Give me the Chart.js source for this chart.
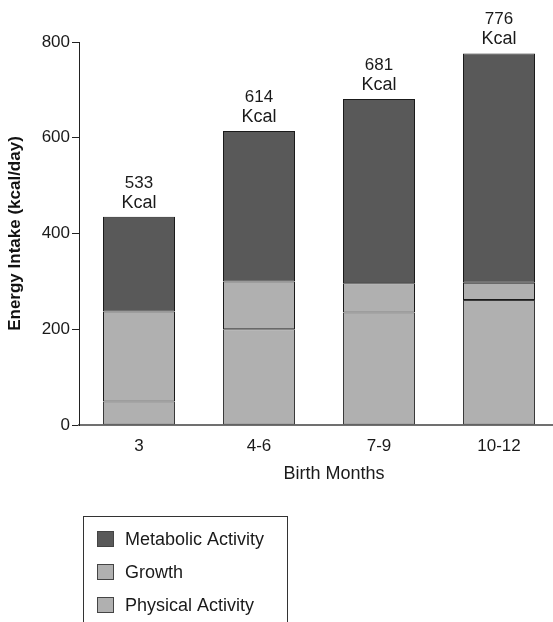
<!DOCTYPE html>
<html>
<head>
<meta charset="utf-8">
<script src="https://cdn.jsdelivr.net/npm/chart.js@4/dist/chart.umd.min.js"></script>
<style>
  html, body { margin: 0; padding: 0; background: #fff; }
  #wrap { width: 553px; height: 622px; overflow: hidden; position: relative; }
  canvas { display: block; }
</style>
</head>
<body>
<div id="wrap"><canvas id="grafico" width="560" height="622"></canvas></div>
<script>
/* DADOS */

const meses = ["3", "4-6", "7-9", "10-12"]

const atividadeFisica = [49, 200, 235, 261]
const crescimento = [188, 100, 61, 36]
const metabolismo = [198, 314, 385, 479]

const totais = [533, 614, 681, 776]

const yTicks = [0, 200, 400, 600, 800]

const fonte = "'Liberation Sans', Arial, sans-serif"
const escuro = "#595959"
const claro = "#b0b0b0"


/* ROTULOS EM CIMA DAS BARRAS */

const rotulosTotais = {
    id: "rotulosTotais",
    afterDatasetsDraw(chart) {
        const ctx = chart.ctx
        const meta = chart.getDatasetMeta(chart.data.datasets.length - 1)
        ctx.save()
        ctx.fillStyle = "#1a1a1a"
        ctx.textAlign = "center"
        ctx.textBaseline = "alphabetic"
        meta.data.forEach((bar, i) => {
            ctx.font = "17px " + fonte
            ctx.fillText(String(totais[i]), bar.x, bar.y - 29)
            ctx.font = "18px " + fonte
            ctx.fillText("Kcal", bar.x, bar.y - 9)
        })
        ctx.restore()
    }
}


/* TITULO DO EIXO X E LEGENDA EM CAIXA */

const legendaCaixa = {
    id: "legendaCaixa",
    afterDraw(chart) {
        const ctx = chart.ctx
        ctx.save()

        ctx.fillStyle = "#1a1a1a"
        ctx.font = "18px " + fonte
        ctx.textAlign = "center"
        ctx.textBaseline = "middle"
        ctx.fillText("Birth Months", 334, 474)

        const itens = chart.data.datasets.slice().reverse()
        ctx.textAlign = "left"
        ctx.strokeStyle = "#333"
        ctx.lineWidth = 1
        ctx.strokeRect(83.5, 516.5, 204, 120)
        itens.forEach((ds, i) => {
            const y = 539 + i * 33
            ctx.fillStyle = ds.backgroundColor
            ctx.fillRect(97, y - 8, 17, 16)
            ctx.strokeStyle = "#444"
            ctx.strokeRect(97.5, y - 7.5, 16, 15)
            ctx.fillStyle = "#1a1a1a"
            ctx.fillText(ds.label, 125, y + 1)
        })
        ctx.restore()
    }
}


/* GRAFICO */

new Chart(document.getElementById("grafico"), {

    type: "bar",

    data: {
        labels: meses,
        datasets: [
            {
                label: "Physical Activity",
                data: atividadeFisica,
                backgroundColor: claro,
                borderColor: "#3a3a3a"
            },
            {
                label: "Growth",
                data: crescimento,
                backgroundColor: claro,
                borderColor: "#1a1a1a"
            },
            {
                label: "Metabolic Activity",
                data: metabolismo,
                backgroundColor: escuro,
                borderColor: "#1a1a1a"
            }
        ]
    },

    options: {
        responsive: false,
        animation: false,
        layout: { padding: { top: 42, left: 0, right: 1, bottom: 132 } },
        datasets: {
            bar: {
                categoryPercentage: 1,
                barPercentage: 0.6,
                borderWidth: 1,
                borderSkipped: false,
                inflateAmount: 0
            }
        },
        plugins: {
            legend: { display: false },
            tooltip: { enabled: false }
        },
        scales: {
            x: {
                stacked: true,
                grid: { display: false },
                border: { color: "#707070", width: 2 },
                ticks: {
                    color: "#1a1a1a",
                    font: { family: fonte, size: 17 },
                    padding: 3
                },
                afterFit(scale) { scale.height = 65 }
            },
            y: {
                stacked: true,
                min: 0,
                max: 800,
                afterBuildTicks(scale) {
                    scale.ticks = yTicks.map(v => ({ value: v }))
                },
                grid: {
                    drawOnChartArea: false,
                    drawTicks: true,
                    tickLength: 7,
                    color: "#222"
                },
                border: { color: "#222", width: 1 },
                ticks: {
                    color: "#1a1a1a",
                    font: { family: fonte, size: 17 },
                    padding: 2
                },
                title: {
                    display: true,
                    text: "Energy Intake (kcal/day)",
                    color: "#111",
                    font: { family: fonte, size: 17, weight: "bold" },
                    padding: { top: 5, bottom: 0 }
                },
                afterFit(scale) { scale.width = 79 }
            }
        }
    },

    plugins: [rotulosTotais, legendaCaixa]

})
</script>
</body>
</html>
